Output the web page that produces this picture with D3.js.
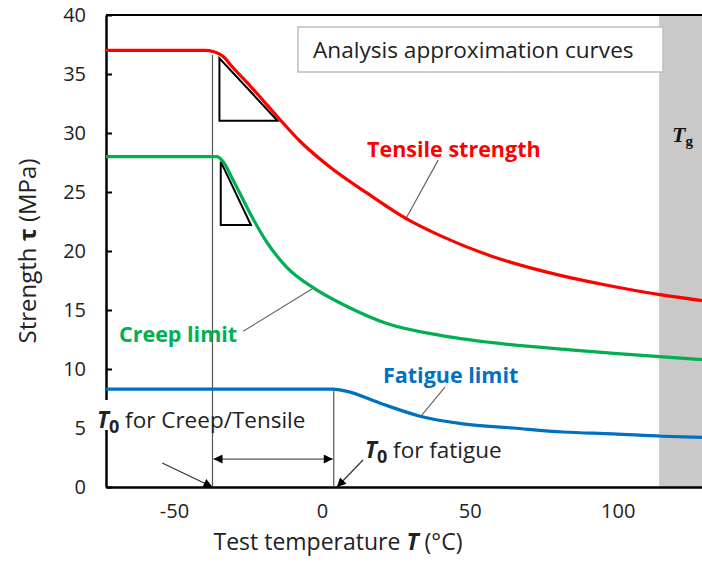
<!DOCTYPE html>
<html>
<head>
<meta charset="utf-8">
<script src="https://cdn.jsdelivr.net/npm/d3@7"></script>
<style>
  body { margin: 0; background: #fff; }
  svg { display: block; font-family: "Open Sans", sans-serif; }
</style>
</head>
<body>
<div id="chart"></div>
<script>
// curve values: temperature (°C) -> strength (MPa)
const tensileT = [-73, -39.5, -36.8, -33, -31, -24.3, -15.1, -7.4, 3.8, 15.3, 28.8, 40, 56.9, 79.5, 96.4, 114.3, 128.5];
const tensile  = [37, 37, 36.9, 36.4, 35.8, 34.0, 31.4, 29.3, 26.9, 24.9, 22.7, 21.3, 19.6, 18.0, 17.1, 16.3, 15.8];

const creepT = [-73, -35.5, -33.5, -30, -24.3, -18.5, -11.8, -3, 8.5, 22, 40, 56.9, 85, 100, 128.5];
const creep  = [28, 28, 27.6, 26.0, 23.2, 20.7, 18.6, 16.9, 15.3, 13.85, 12.85, 12.25, 11.6, 11.3, 10.8];

const fatigueT = [-73, 3.8, 8.5, 19.7, 33.2, 47.7, 64.6, 81.6, 98.5, 115, 128.5];
const fatigue  = [8.3, 8.3, 8.1, 7.1, 6.0, 5.35, 5.0, 4.66, 4.5, 4.3, 4.2];

const xTicks = [-50, 0, 50, 100];
const yTicks = [0, 5, 10, 15, 20, 25, 30, 35, 40];

const tg = 114;          // glass transition, start of grey band
const t0Creep = -37;     // T0 for creep / tensile
const t0Fatigue = 4;     // T0 for fatigue

// slope triangles [T, MPa]
const triangles = [
  [[-34.65, 36.33], [-34.65, 31.04], [-15, 31.04]],
  [[-34.2, 27.57], [-34.2, 22.2], [-24, 22.2]]
];
// leader lines from labels to curves
const leaders = [
  [[39.3, 27.7], [28.1, 22.6]],
  [[-26.6, 13.2], [-2.3, 16.95]],
  [[41.6, 8.47], [33.2, 5.93]]
];
// arrows pointing at the T0 values on the axis
const arrows = [
  [[-54, 2.03], [t0Creep, 0]],
  [[13.9, 2.29], [5.1, 0]]
];
const spanY = 2.37;

const svgWidth = 702, svgHeight = 562;
const margin = { top: 15, right: 0, bottom: 75, left: 106 };
const width = svgWidth - margin.left - margin.right;
const height = svgHeight - margin.top - margin.bottom;

const svg = d3.select('#chart').append('svg')
  .attr('width', svgWidth).attr('height', svgHeight);

const defs = svg.append('defs');
defs.append('marker')
  .attr('id', 'head')
  .attr('viewBox', '0 0 10 10')
  .attr('refX', 10).attr('refY', 5)
  .attr('markerWidth', 11).attr('markerHeight', 9)
  .attr('markerUnits', 'userSpaceOnUse')
  .attr('orient', 'auto-start-reverse')
  .append('path').attr('d', 'M0,0L10,5L0,10z').attr('fill', '#000');

const g = svg.append('g')
  .attr('transform', `translate(${margin.left},${margin.top})`);

const x = d3.scaleLinear().domain([-73, 128.5]).range([0, width]);
const y = d3.scaleLinear().domain([0, 40]).range([height, 0]);

// Tg band
g.append('rect')
  .attr('x', x(tg)).attr('y', 0)
  .attr('width', x(128.5) - x(tg)).attr('height', height)
  .attr('fill', '#c9c9c9');

// top border
g.append('line')
  .attr('x1', 0).attr('x2', width).attr('y1', 0).attr('y2', 0)
  .attr('stroke', '#000').attr('stroke-width', 2);

// Y - Axis
const yAxis = g.append('g')
  .call(d3.axisLeft(y).tickValues(yTicks).tickSizeInner(-6).tickSizeOuter(0).tickPadding(20));
yAxis.select('.domain').attr('stroke-width', 2.5);
yAxis.selectAll('.tick line').attr('stroke-width', 2);
yAxis.selectAll('text').attr('font-size', 20).attr('fill', '#222')
  .attr('font-family', '"Open Sans", sans-serif');

// X - Axis (plain hyphen for negatives, like the original)
const xAxis = g.append('g')
  .attr('transform', `translate(0,${height})`)
  .call(d3.axisBottom(x).tickValues(xTicks).tickFormat(d => String(d)).tickSize(0).tickPadding(17));
xAxis.select('.domain').attr('stroke-width', 2.5);
xAxis.selectAll('text').attr('font-size', 20).attr('fill', '#222')
  .attr('font-family', '"Open Sans", sans-serif');

// legend-like box
g.append('rect')
  .attr('x', 192).attr('y', 12).attr('width', 365).attr('height', 45)
  .attr('fill', '#fff').attr('stroke', '#bdbdbd').attr('stroke-width', 1.5);
g.append('text')
  .attr('x', 207).attr('y', 43)
  .attr('font-size', 22.6).attr('fill', '#222')
  .text('Analysis approximation curves');

// white text box behind T0 label covers the axis
g.append('rect')
  .attr('x', -8).attr('y', 385).attr('width', 20).attr('height', 30)
  .attr('fill', '#fff');

// T0 vertical lines
g.append('line')
  .attr('x1', x(t0Creep)).attr('x2', x(t0Creep))
  .attr('y1', y(36.6)).attr('y2', y(0))
  .attr('stroke', '#555').attr('stroke-width', 1.2);
g.append('line')
  .attr('x1', x(t0Fatigue)).attr('x2', x(t0Fatigue))
  .attr('y1', y(fatigue[0])).attr('y2', y(0))
  .attr('stroke', '#555').attr('stroke-width', 1.2);

// span arrow between the two T0
g.append('line')
  .attr('x1', x(t0Creep) + 1).attr('x2', x(t0Fatigue) - 1)
  .attr('y1', y(spanY)).attr('y2', y(spanY))
  .attr('stroke', '#555').attr('stroke-width', 1.2)
  .attr('marker-start', 'url(#head)').attr('marker-end', 'url(#head)');

// pointing arrows
arrows.forEach(a => {
  g.append('line')
    .attr('x1', x(a[0][0])).attr('y1', y(a[0][1]))
    .attr('x2', x(a[1][0])).attr('y2', y(a[1][1]))
    .attr('stroke', '#333').attr('stroke-width', 1.2)
    .attr('marker-end', 'url(#head)');
});

// leader lines
leaders.forEach(l => {
  g.append('line')
    .attr('x1', x(l[0][0])).attr('y1', y(l[0][1]))
    .attr('x2', x(l[1][0])).attr('y2', y(l[1][1]))
    .attr('stroke', '#666').attr('stroke-width', 1.2);
});

// slope triangles
g.selectAll('.tri')
  .data(triangles)
  .enter().append('path')
  .attr('class', 'tri')
  .attr('d', d => d3.line().x(p => x(p[0])).y(p => y(p[1]))(d) + 'Z')
  .attr('fill', 'none').attr('stroke', '#000').attr('stroke-width', 2);

// curves
const series = [
  { t: tensileT, v: tensile, color: '#ff0000' },
  { t: creepT, v: creep, color: '#00b050' },
  { t: fatigueT, v: fatigue, color: '#0070c0' }
];
const line = d3.line()
  .x(d => x(d[0]))
  .y(d => y(d[1]))
  .curve(d3.curveMonotoneX);
series.forEach(s => {
  g.append('path')
    .datum(s.t.map((t, i) => [t, s.v[i]]))
    .attr('fill', 'none')
    .attr('stroke', s.color)
    .attr('stroke-width', 3.2)
    .attr('stroke-linejoin', 'round')
    .attr('d', line);
});

// curve labels
const labels = [
  { text: 'Tensile strength', x: 261, y: 142, color: '#ff0000' },
  { text: 'Creep limit', x: 13, y: 327, color: '#00b050' },
  { text: 'Fatigue limit', x: 277, y: 368, color: '#0070c0' }
];
g.selectAll('.lbl')
  .data(labels)
  .enter().append('text')
  .attr('class', 'lbl')
  .attr('x', d => d.x).attr('y', d => d.y)
  .attr('font-size', 21.5).attr('font-weight', 'bold')
  .attr('fill', d => d.color)
  .text(d => d.text);

// T0 labels
const t0Label = (px, py, rest) => {
  const t = g.append('text').attr('x', px).attr('y', py)
    .attr('font-size', 22.5).attr('fill', '#222');
  t.append('tspan').attr('font-weight', 'bold').attr('font-style', 'italic').text('T');
  t.append('tspan').attr('font-weight', 'bold').attr('font-size', 18).attr('dy', 5).text('0');
  t.append('tspan').attr('dy', -5).text(' ' + rest);
};
t0Label(-9, 413, 'for Creep/Tensile');
t0Label(259, 443, 'for fatigue');

// Tg
const tgText = g.append('text')
  .attr('x', 566).attr('y', 127)
  .attr('font-family', '"Liberation Serif", "DejaVu Serif", serif')
  .attr('font-size', 22).attr('font-weight', 'bold').attr('fill', '#111');
tgText.append('tspan').attr('font-style', 'italic').text('T');
tgText.append('tspan').attr('font-size', 15).attr('dy', 4).text('g');

// axis titles
const yTitle = svg.append('text')
  .attr('transform', 'translate(36,251) rotate(-90)')
  .attr('text-anchor', 'middle')
  .attr('font-size', 24).attr('fill', '#222');
yTitle.append('tspan').text('Strength ');
yTitle.append('tspan').attr('font-weight', 'bold').text('τ');
yTitle.append('tspan').text(' (MPa)');

const xTitle = svg.append('text')
  .attr('x', 338).attr('y', 550)
  .attr('text-anchor', 'middle')
  .attr('font-size', 23).attr('fill', '#222');
xTitle.append('tspan').text('Test temperature ');
xTitle.append('tspan').attr('font-weight', 'bold').attr('font-style', 'italic').text('T');
xTitle.append('tspan').text(' (°C)');
</script>
</body>
</html>
